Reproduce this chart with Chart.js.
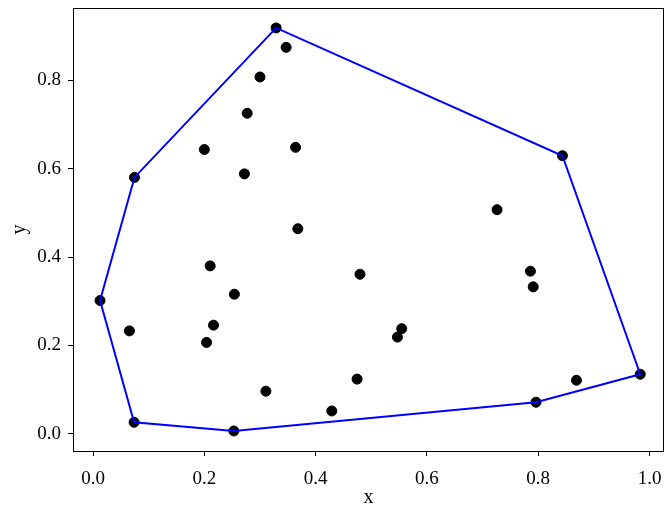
<!DOCTYPE html>
<html>
<head>
<meta charset="utf-8">
<script src="https://cdn.jsdelivr.net/npm/chart.js@4"></script>
<style>
  html, body { margin: 0; padding: 0; background: #fff; }
  #wrap { width: 665px; height: 506px; }
</style>
</head>
<body>
<div id="wrap"><canvas id="hullChart" width="665" height="506"></canvas></div>
<script>
// scatter points
const xs = [0.329, 0.347, 0.300, 0.277, 0.200, 0.364, 0.272, 0.0745, 0.368, 0.8435,
            0.726, 0.2105, 0.254, 0.0126, 0.0654, 0.2165, 0.204, 0.3106, 0.429, 0.0738,
            0.253, 0.4745, 0.4797, 0.786, 0.791, 0.5547, 0.547, 0.796, 0.8687, 0.9833];
const ys = [0.918, 0.874, 0.807, 0.725, 0.643, 0.648, 0.588, 0.580, 0.464, 0.629,
            0.507, 0.380, 0.316, 0.3016, 0.233, 0.246, 0.207, 0.0966, 0.052, 0.0264,
            0.0068, 0.124, 0.361, 0.368, 0.3326, 0.238, 0.219, 0.0717, 0.1215, 0.135];
// convex hull vertices (indices into xs / ys), closed back to the first
const hullIdx = [13, 19, 20, 27, 29, 9, 0, 7, 13];

const xTicks = [0.0, 0.2, 0.4, 0.6, 0.8, 1.0];
const yTicks = [0.0, 0.2, 0.4, 0.6, 0.8];

const points = xs.map((x, i) => ({ x: x, y: ys[i] }));
const hull = hullIdx.map(i => ({ x: xs[i], y: ys[i] }));

Chart.defaults.font.family = "'Liberation Serif', 'Times New Roman', serif";
Chart.defaults.font.size = 19;
Chart.defaults.color = "#000";

const frame = {
  id: "frame",
  afterDatasetsDraw(chart) {
    const a = chart.chartArea;
    const c = chart.ctx;
    c.save();
    c.strokeStyle = "#000";
    c.lineWidth = 1;
    c.strokeRect(Math.round(a.left) + 0.5, Math.round(a.top) + 0.5,
                 Math.round(a.right - a.left) - 1, Math.round(a.bottom - a.top));
    c.restore();
  }
};

// no extra room for half tick labels at the ends of the axes
function noEndPadding(s) {
  s.paddingTop = 0; s.paddingBottom = 0; s.paddingLeft = 0; s.paddingRight = 0;
}

const ctx = document.getElementById("hullChart");

new Chart(ctx, {
  type: "scatter",
  data: {
    datasets: [
      {
        label: "hull",
        data: hull,
        showLine: true,
        borderColor: "#0000ff",
        borderWidth: 2,
        pointRadius: 0,
        fill: false,
        tension: 0,
        order: 0,
      },
      {
        label: "points",
        data: points,
        backgroundColor: "#000",
        borderColor: "#000",
        pointRadius: 5,
        order: 1,
      },
    ],
  },
  options: {
    responsive: false,
    animation: false,
    events: [],
    layout: { autoPadding: false, padding: { top: 8, right: 1, left: 0, bottom: 0 } },
    plugins: { legend: { display: false }, tooltip: { enabled: false } },
    scales: {
      x: {
        type: "linear",
        min: -0.036,
        max: 1.026,
        afterBuildTicks: (s) => { s.ticks = xTicks.map(v => ({ value: v })); },
        afterFit: (s) => { s.height = 55; noEndPadding(s); },
        ticks: { callback: (v) => Number(v).toFixed(1), padding: 12, maxRotation: 0 },
        grid: { drawOnChartArea: false, drawTicks: true, tickLength: 5, tickColor: "#000", lineWidth: 1 },
        border: { display: false },
        title: { display: true, text: "x", font: { size: 20 }, padding: { top: 0, bottom: -4 } },
      },
      y: {
        type: "linear",
        min: -0.0385,
        max: 0.963,
        afterBuildTicks: (s) => { s.ticks = yTicks.map(v => ({ value: v })); },
        afterFit: (s) => { s.width = 73; noEndPadding(s); },
        ticks: { callback: (v) => Number(v).toFixed(1), padding: 7 },
        grid: { drawOnChartArea: false, drawTicks: true, tickLength: 5, tickColor: "#000", lineWidth: 1 },
        border: { display: false },
        title: { display: true, text: "y", font: { size: 20 }, padding: { top: 8, bottom: 0 } },
      },
    },
  },
  plugins: [frame],
});
</script>
</body>
</html>
